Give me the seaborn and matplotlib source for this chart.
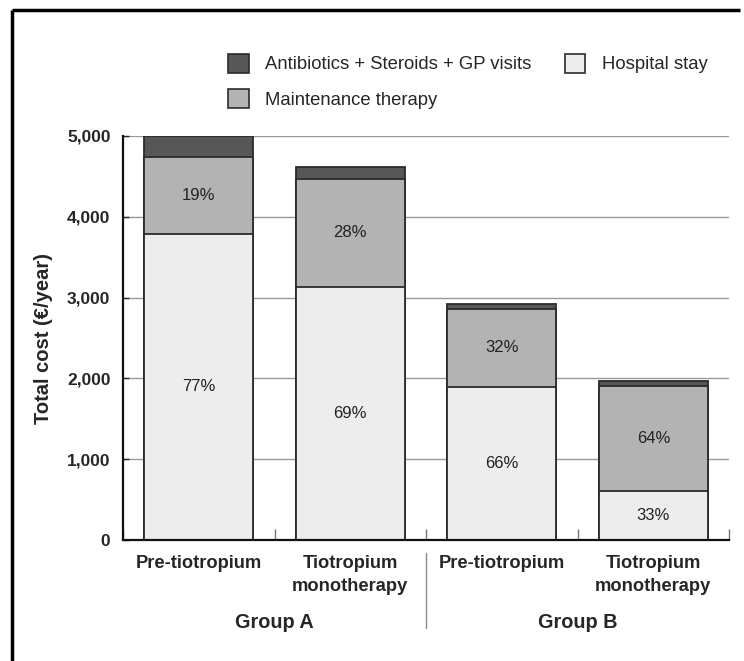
"""
Stacked cost bars: pre-tiotropium vs tiotropium monotherapy, groups A and B.
"""

import numpy as np
import pandas as pd
import matplotlib
matplotlib.use("Agg")
import matplotlib.pyplot as plt
from matplotlib.patches import Patch
from matplotlib.lines import Line2D
import seaborn as sns


# ---------------------------------------------------------------------------
# Data
# ---------------------------------------------------------------------------

BAR_KEYS = ["A_pre", "A_tio", "B_pre", "B_tio"]
BAR_LABELS = ["Pre-tiotropium", "Tiotropium\nmonotherapy",
              "Pre-tiotropium", "Tiotropium\nmonotherapy"]
GROUPS = ["Group A", "Group B"]

hospital = [3790, 3130, 1895, 610]
maintenance = [950, 1340, 965, 1290]
antibiotics = [255, 145, 60, 70]

hospital_pct = ["77%", "69%", "66%", "33%"]
maintenance_pct = ["19%", "28%", "32%", "64%"]

SERIES = ["Antibiotics + Steroids + GP visits", "Maintenance therapy", "Hospital stay"]
COLORS = {"Antibiotics + Steroids + GP visits": "#575757",
          "Maintenance therapy": "#b3b3b3",
          "Hospital stay": "#ededed"}
EDGE = "#2b2b2b"


def set_style() -> None:
    sns.set_theme(style="white")
    plt.rcParams["font.family"] = ["Liberation Sans", "DejaVu Sans"]
    plt.rcParams["figure.dpi"] = 100


def main() -> None:
    set_style()

    df = pd.DataFrame({"bar": BAR_KEYS,
                       "hospital": hospital,
                       "maintenance": maintenance,
                       "antibiotics": antibiotics})
    df["lvl_hosp"] = df["hospital"]
    df["lvl_maint"] = df["hospital"] + df["maintenance"]
    df["lvl_total"] = df["lvl_maint"] + df["antibiotics"]

    fig = plt.figure(figsize=(7.44, 6.61), dpi=100)
    ax = fig.add_axes([0.1653, 0.183, 0.8147, 0.6113])

    # gridlines underneath
    for yv in range(1000, 5001, 1000):
        ax.axhline(yv, color="#9a9a9a", lw=1.0, zorder=0)

    # stacked via overlapping cumulative bars
    for col, name in [("lvl_total", SERIES[0]), ("lvl_maint", SERIES[1]), ("lvl_hosp", SERIES[2])]:
        sns.barplot(data=df, x="bar", y=col, order=BAR_KEYS, color=COLORS[name],
                    saturation=1, width=0.72, edgecolor=EDGE, linewidth=1.3,
                    ax=ax, zorder=2)

    # percentage labels in segment centres
    for i in range(len(BAR_KEYS)):
        ax.text(i, df["hospital"][i] / 2, hospital_pct[i], ha="center", va="center",
                fontsize=12, color="#222222", zorder=3)
        ax.text(i, df["hospital"][i] + df["maintenance"][i] / 2, maintenance_pct[i],
                ha="center", va="center", fontsize=12, color="#222222", zorder=3)

    ax.set_xlim(-0.5, len(BAR_KEYS) - 0.5)
    ax.set_ylim(0, 5000)
    ax.set_yticks(range(0, 5001, 1000))
    ax.set_yticklabels([f"{v:,}" for v in range(0, 5001, 1000)], fontsize=12.5, fontweight="bold")
    ax.set_xticks(range(len(BAR_KEYS)))
    ax.set_xticklabels(BAR_LABELS, fontsize=13.2, fontweight="bold", linespacing=1.45)
    ax.tick_params(axis="x", length=0, pad=11)
    ax.tick_params(axis="y", direction="in", length=4, width=1, pad=9, left=True)
    ax.set_xticks(np.arange(-0.5, len(BAR_KEYS), 1.0), minor=True)
    ax.tick_params(axis="x", which="minor", direction="in", length=8, width=1,
                   color="#777777", bottom=True)
    ax.set_xlabel("")
    ax.set_ylabel("Total cost (€/year)", fontsize=14.5, fontweight="bold", labelpad=10)

    for side in ["top", "right"]:
        ax.spines[side].set_visible(False)
    for side in ["left", "bottom"]:
        ax.spines[side].set_color("#111111")
        ax.spines[side].set_linewidth(1.6)

    # group labels and separator
    for gi, g in enumerate(GROUPS):
        ax.text(gi * 2 + 0.5, -0.203, g, transform=ax.get_xaxis_transform(),
                ha="center", va="center", fontsize=14.3, fontweight="bold")
    ax.add_artist(Line2D([1.5, 1.5], [-0.032, -0.218], transform=ax.get_xaxis_transform(),
                         color="#8a8a8a", lw=1, clip_on=False))

    # legend
    handles = [Patch(facecolor=COLORS[s], edgecolor=EDGE, linewidth=1.2) for s in SERIES]
    fig.legend(handles, SERIES, loc="upper left", bbox_to_anchor=(0.297, 0.93),
               ncol=2, frameon=False, fontsize=13.3, handlelength=1.1, handleheight=1.2,
               handletextpad=0.9, columnspacing=1.8, labelspacing=0.85, borderaxespad=0)

    # frame lines (top and left) of the original panel
    fig.add_artist(Line2D([12 / 744, 12 / 744], [-0.01, 1 - 10 / 661], color="black",
                          lw=2.5, solid_capstyle="butt"))
    fig.add_artist(Line2D([12 / 744, 0.995], [1 - 10 / 661, 1 - 10 / 661], color="black",
                          lw=2.5, solid_capstyle="butt"))

    fig.savefig("out.png", dpi=100)
    plt.close(fig)


if __name__ == "__main__":
    main()
